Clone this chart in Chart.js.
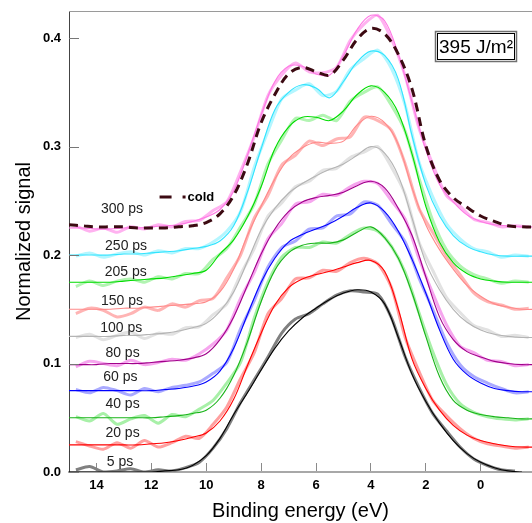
<!DOCTYPE html>
<html><head><meta charset="utf-8">
<script src="https://cdn.jsdelivr.net/npm/chart.js@4.4.1/dist/chart.umd.min.js"></script>
<style>html,body{margin:0;padding:0;background:#fff}#wrap{width:532px;height:523px;position:relative}</style>
</head><body><div id="wrap"><canvas id="c"></canvas></div>
<script>
// ---------- data ----------
const fitEnergy = [15,14.5,14,13.5,13,12.5,12,11.5,11,10.5,10,9.5,9,8.5,8,7.5,7,6.5,6,5.5,5,4.5,4,3.5,3,2.5,2,1.5,1,0.5,0,-0.5,-1,-1.5,-2];
const rawEnergy = [14.75,14.25,13.75,13.25,12.75,12.25,11.75,11.25,10.75,10.25,9.75,9.25,8.75,8.25,7.75,7.25,6.75,6.25,5.75,5.25,4.75,4.25,3.75,3.25,2.75,2.25,1.75,1.25,0.75,0.25,-0.25,-0.75,-1.25,-1.75];
const delays = ['5 ps','20 ps','40 ps','60 ps','80 ps','100 ps','150 ps','205 ps','250 ps','300 ps'];

const fit5   = [0.000,0.000,0.000,0.000,0.000,0.000,0.000,0.001,0.002,0.006,0.015,0.031,0.053,0.073,0.094,0.114,0.130,0.142,0.151,0.159,0.165,0.168,0.166,0.155,0.124,0.090,0.065,0.045,0.029,0.017,0.009,0.004,0.001,0.000,null];
const fit20  = [0.025,0.025,0.025,0.025,0.025,0.025,0.026,0.027,0.029,0.032,0.036,0.047,0.067,0.098,0.128,0.154,0.170,0.178,0.182,0.185,0.189,0.193,0.195,0.185,0.150,0.104,0.077,0.057,0.043,0.034,0.029,0.026,0.024,0.023,0.023];
const fit40  = [0.050,0.050,0.050,0.050,0.050,0.050,0.050,0.051,0.052,0.054,0.057,0.068,0.089,0.120,0.157,0.186,0.202,0.209,0.211,0.211,0.214,0.221,0.226,0.216,0.197,0.165,0.125,0.088,0.066,0.057,0.053,0.051,0.050,0.049,0.049];
const fit60  = [0.075,0.075,0.075,0.075,0.075,0.075,0.075,0.076,0.077,0.079,0.083,0.093,0.114,0.145,0.175,0.197,0.212,0.219,0.224,0.229,0.236,0.244,0.248,0.240,0.222,0.196,0.165,0.131,0.104,0.090,0.082,0.077,0.075,0.074,0.074];
const fit80  = [0.099,0.099,0.099,0.100,0.100,0.100,0.101,0.102,0.103,0.105,0.109,0.122,0.143,0.172,0.201,0.224,0.240,0.249,0.253,0.255,0.258,0.264,0.268,0.262,0.243,0.218,0.180,0.143,0.122,0.111,0.106,0.102,0.100,0.099,0.099];
const fit100 = [0.125,0.125,0.125,0.125,0.126,0.126,0.127,0.128,0.130,0.133,0.137,0.148,0.166,0.194,0.223,0.243,0.257,0.266,0.273,0.279,0.284,0.292,0.300,0.294,0.273,0.234,0.193,0.168,0.150,0.138,0.131,0.127,0.125,0.124,0.124];
const fit150 = [0.150,0.150,0.150,0.150,0.151,0.151,0.152,0.153,0.154,0.155,0.157,0.166,0.187,0.218,0.245,0.270,0.289,0.299,0.304,0.303,0.305,0.320,0.328,0.322,0.302,0.262,0.228,0.205,0.187,0.172,0.162,0.155,0.152,0.150,0.150];
const fit205 = [0.175,0.175,0.175,0.175,0.176,0.177,0.178,0.179,0.181,0.183,0.186,0.201,0.214,0.235,0.263,0.298,0.318,0.327,0.327,0.324,0.333,0.348,0.356,0.350,0.331,0.293,0.245,0.212,0.193,0.183,0.178,0.176,0.175,0.175,0.175];
const fit250 = [0.200,0.200,0.200,0.200,0.201,0.201,0.202,0.203,0.204,0.206,0.208,0.213,0.227,0.258,0.298,0.334,0.350,0.357,0.354,0.345,0.360,0.378,0.388,0.384,0.362,0.310,0.265,0.236,0.218,0.208,0.203,0.200,0.199,0.199,0.199];
const fit300 = [0.225,0.225,0.224,0.224,0.225,0.225,0.226,0.227,0.228,0.231,0.235,0.242,0.259,0.292,0.329,0.360,0.374,0.374,0.367,0.366,0.384,0.408,0.421,0.416,0.385,0.341,0.297,0.265,0.249,0.237,0.231,0.228,0.227,0.226,0.226];
const cold   = [0.228,0.227,0.226,0.226,0.226,0.225,0.225,0.225,0.226,0.227,0.230,0.238,0.255,0.284,0.322,0.348,0.367,0.373,0.369,0.366,0.380,0.399,0.409,0.404,0.385,0.353,0.301,0.269,0.253,0.244,0.236,0.231,0.227,0.226,0.226];

const raw5   = [0.002,0.005,0.000,0.001,0.003,0.000,0.002,0.001,0.004,0.009,0.022,0.040,0.064,0.085,0.106,0.128,0.141,0.146,0.155,0.163,0.167,0.166,0.164,0.142,0.106,0.078,0.054,0.038,0.023,0.012,0.006,0.002,0.001,null];
const raw20  = [0.028,0.024,0.021,0.027,0.022,0.029,0.023,0.027,0.033,0.031,0.044,0.060,0.086,0.110,0.146,0.160,0.178,0.179,0.186,0.185,0.193,0.197,0.192,0.170,0.124,0.093,0.066,0.052,0.040,0.031,0.026,0.024,0.022,0.023];
const raw40  = [0.051,0.047,0.054,0.044,0.049,0.052,0.045,0.053,0.051,0.058,0.066,0.082,0.101,0.142,0.175,0.198,0.207,0.207,0.212,0.211,0.219,0.225,0.222,0.208,0.184,0.147,0.111,0.081,0.063,0.055,0.051,0.049,0.048,0.049];
const raw60  = [0.076,0.073,0.078,0.075,0.071,0.077,0.074,0.078,0.080,0.083,0.091,0.101,0.132,0.158,0.189,0.207,0.213,0.224,0.225,0.236,0.238,0.249,0.246,0.229,0.212,0.179,0.150,0.120,0.099,0.088,0.082,0.077,0.073,0.074];
const raw80  = [0.097,0.102,0.100,0.098,0.103,0.099,0.101,0.104,0.103,0.109,0.118,0.131,0.160,0.184,0.215,0.229,0.247,0.249,0.256,0.255,0.263,0.268,0.266,0.250,0.233,0.197,0.165,0.136,0.116,0.110,0.103,0.102,0.098,0.099];
const raw100 = [0.124,0.127,0.122,0.126,0.129,0.123,0.128,0.127,0.133,0.134,0.145,0.155,0.182,0.206,0.236,0.248,0.263,0.268,0.278,0.280,0.290,0.295,0.300,0.281,0.256,0.212,0.186,0.161,0.147,0.135,0.131,0.125,0.126,0.124];
const raw150 = [0.146,0.151,0.149,0.143,0.146,0.152,0.149,0.155,0.152,0.158,0.160,0.179,0.200,0.234,0.255,0.283,0.292,0.305,0.301,0.307,0.309,0.327,0.324,0.315,0.284,0.243,0.221,0.199,0.182,0.165,0.157,0.154,0.150,0.151];
const raw205 = [0.171,0.176,0.172,0.176,0.178,0.175,0.180,0.178,0.183,0.183,0.196,0.206,0.226,0.247,0.284,0.306,0.326,0.324,0.329,0.324,0.342,0.350,0.355,0.338,0.314,0.271,0.232,0.205,0.190,0.182,0.178,0.174,0.176,0.175];
const raw250 = [0.199,0.202,0.198,0.201,0.203,0.200,0.204,0.202,0.206,0.206,0.212,0.222,0.240,0.281,0.314,0.344,0.352,0.358,0.347,0.351,0.371,0.381,0.389,0.372,0.338,0.286,0.254,0.229,0.215,0.206,0.203,0.198,0.200,0.199];
const raw300 = [0.227,0.222,0.225,0.221,0.226,0.224,0.228,0.226,0.231,0.232,0.241,0.249,0.277,0.309,0.347,0.366,0.377,0.369,0.368,0.373,0.398,0.413,0.421,0.399,0.365,0.317,0.284,0.255,0.245,0.233,0.230,0.226,0.227,0.226];

const xTicks = [14,12,10,8,6,4,2,0];
const yTicks = [0,0.1,0.2,0.3,0.4];
// label anchors (binding energy, signal) for the delay annotations
const labelEnergy = [13.14,13.05,13.05,13.13,13.05,13.10,13.07,12.93,12.92,13.07];
const labelSignal = [0.0089,0.0362,0.0624,0.0873,0.1094,0.1324,0.1579,0.1846,0.2083,0.2421];
const legendAnchor = [11.7, 0.2535];
const fluenceText = '395 J/m\u00B2';

// ---------- styling ----------
const fitSeries = [fit5,fit20,fit40,fit60,fit80,fit100,fit150,fit205,fit250,fit300];
const rawSeries = [raw5,raw20,raw40,raw60,raw80,raw100,raw150,raw205,raw250,raw300];
const fitColors = ['#000000','#ff0000','#18b418','#0000ff','#a0008a','#b4b4b4','#ff8a8a','#00dc00','#30e4ff','#ff78e4'];
const rawColors = ['#808080','#ffa0a0','#a8f0a8','#aaaaff','#f6a6ee','#e2e2e2','#ffb4b4','#b2f4b2','#b4f6ff','#ffb2f0'];
const coldColor = '#3c0a12';
const FONT = '"Liberation Sans", Arial, Helvetica, sans-serif';

const toPts = (xs, ys) => xs.map((e,i)=>({x:e, y:ys[i]}));
const datasets = [];
rawSeries.forEach((s,i)=>datasets.push({label:'raw '+delays[i], data:toPts(rawEnergy,s), borderColor:rawColors[i], borderWidth:3, tension:0.25, pointRadius:0, order:3}));
fitSeries.forEach((s,i)=>datasets.push({label:delays[i], data:toPts(fitEnergy,s), borderColor:fitColors[i], borderWidth:1.1, tension:0.35, pointRadius:0, order:2}));
datasets.push({label:'cold', data:toPts(fitEnergy,cold), borderColor:coldColor, borderWidth:3, borderDash:[9,6], tension:0.35, pointRadius:0, order:1});

const annot = {
  id:'annot',
  afterDatasetsDraw(chart){
    const {ctx, chartArea:ca, scales:{x,y}} = chart;
    ctx.save();
    // top frame line
    ctx.strokeStyle='#9a9a9a'; ctx.lineWidth=1;
    ctx.beginPath(); ctx.moveTo(ca.left, ca.top+0.5); ctx.lineTo(ca.right, ca.top+0.5); ctx.stroke();
    // inward tick marks on the signal axis
    ctx.strokeStyle='#777'; ctx.lineWidth=1;
    y.ticks.forEach(t=>{const py=Math.round(y.getPixelForValue(t.value))+0.5; ctx.beginPath(); ctx.moveTo(ca.left, py); ctx.lineTo(ca.left+10, py); ctx.stroke();});
    // delay labels
    ctx.font='14px '+FONT; ctx.fillStyle='#222'; ctx.textAlign='center'; ctx.textBaseline='middle';
    delays.forEach((d,i)=>ctx.fillText(d, x.getPixelForValue(labelEnergy[i]), y.getPixelForValue(labelSignal[i])));
    // cold legend
    const lx = x.getPixelForValue(legendAnchor[0]), ly = y.getPixelForValue(legendAnchor[1]);
    ctx.strokeStyle=coldColor; ctx.lineWidth=3;
    ctx.beginPath(); ctx.moveTo(lx, ly); ctx.lineTo(lx+12, ly); ctx.moveTo(lx+23, ly); ctx.lineTo(lx+26, ly); ctx.stroke();
    ctx.fillStyle='#000'; ctx.font='bold 13px '+FONT; ctx.textAlign='left';
    ctx.fillText('cold', lx+28, ly);
    // fluence box
    const bw=82, bh=31, bx=ca.right-15-bw, by=ca.top+20;
    ctx.fillStyle='#fff'; ctx.fillRect(bx,by,bw,bh);
    ctx.strokeStyle='#707070'; ctx.lineWidth=1.5; ctx.strokeRect(bx+0.5,by+0.5,bw-1,bh-1);
    ctx.strokeStyle='#000'; ctx.lineWidth=1; ctx.strokeRect(bx+2.5,by+2.5,bw-5,bh-5);
    ctx.fillStyle='#000'; ctx.font='19px '+FONT; ctx.textAlign='center'; ctx.textBaseline='middle';
    ctx.fillText(fluenceText, bx+bw/2, by+bh/2+1);
    ctx.restore();
  }
};

Chart.defaults.font.family = FONT;
new Chart(document.getElementById('c'), {
  type:'line',
  data:{datasets},
  options:{
    responsive:true, maintainAspectRatio:false, animation:false, devicePixelRatio:1,
    layout:{padding:{top:11,right:0,left:0,bottom:0}},
    plugins:{legend:{display:false}, tooltip:{enabled:false}},
    scales:{
      x:{type:'linear', reverse:true, min:-1.87, max:15,
        afterBuildTicks:(s)=>{s.ticks = xTicks.map(v=>({value:v}));},
        afterFit:(s)=>{s.height=51; s.paddingLeft=0; s.paddingRight=0;},
        ticks:{callback:(v)=>String(v), font:{size:13, weight:'bold'}, color:'#000', padding:15, maxRotation:0, autoSkip:false},
        grid:{drawOnChartArea:false, drawTicks:true, tickLength:-9, color:'#8a8a8a', lineWidth:1},
        border:{display:true, color:'#a8a8a8', width:2},
        title:{display:true, text:'Binding energy (eV)', color:'#000', font:{size:20, lineHeight:1.15}, padding:{top:0,bottom:0}}
      },
      y:{type:'linear', min:0, max:0.425,
        afterBuildTicks:(s)=>{s.ticks = yTicks.map(v=>({value:v}));},
        afterFit:(s)=>{s.width=69; s.paddingTop=0; s.paddingBottom=0;},
        ticks:{callback:(v)=>Number(v).toFixed(1), font:{size:13, weight:'bold'}, color:'#000', padding:8, autoSkip:false},
        grid:{drawOnChartArea:false, drawTicks:false},
        border:{display:true, color:'#444', width:1},
        title:{display:true, text:'Normalized signal', color:'#000', font:{size:20, lineHeight:1.15}, padding:{top:13,bottom:0}}
      }
    }
  },
  plugins:[annot]
});
</script></body></html>
